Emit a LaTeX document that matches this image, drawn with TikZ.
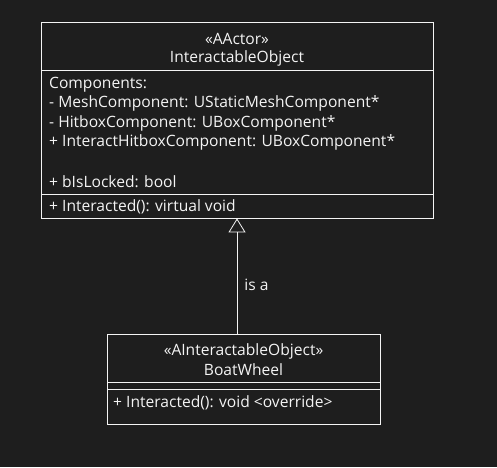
\documentclass[tikz,border=0pt]{standalone}
\usepackage{fontspec}
\setmainfont{Open Sans}
\usetikzlibrary{arrows.meta,positioning}
\definecolor{bgcol}{HTML}{1E1E1E}
\definecolor{fgcol}{HTML}{F4F4F4}

\begin{document}
\begin{tikzpicture}[x=1pt,y=-1pt]
			\tikzstyle{classbox}=[draw=fgcol,fill=bgcol,line width=0.8pt,inner sep=0pt]
			\tikzstyle{txt}=[text=fgcol,inner sep=0pt,font=\fontsize{15.6}{18}\selectfont]
			\tikzstyle{member}=[txt,anchor=west]
			\fill [bgcol] (0,0) rectangle (497,467);
			% InteractableObject
			\node [classbox,minimum width=392pt,minimum height=196pt] (iobj) at (237,120) {};
			\draw [fgcol,line width=0.8pt] (41,70) -- (433,70);
			\draw [fgcol,line width=0.8pt] (41,194) -- (433,194);
			\node [txt] (iobjstereo) at (237,39) {«AActor»};
			\node [txt] (iobjname) at (237,58) {InteractableObject};
			\node [member] (iobjcomp) at (49,85) {Components:};
			\node [member] (iobjmesh) at (49,103) {- MeshComponent: UStaticMeshComponent*};
			\node [member] (iobjhit) at (49,123) {- HitboxComponent: UBoxComponent*};
			\node [member] (iobjinter) at (49,142) {+ InteractHitboxComponent: UBoxComponent*};
			\node [member] (iobjlock) at (49,182) {+ bIsLocked: bool};
			\node [member] (iobjfunc) at (49,207) {+ Interacted(): virtual void};
			% BoatWheel
			\node [classbox,minimum width=273pt,minimum height=90pt] (wheel) at (243.5,379) {};
			\draw [fgcol,line width=0.8pt] (107,382) -- (380,382);
			\draw [fgcol,line width=0.8pt] (107,389) -- (380,389);
			\node [txt] (wheelstereo) at (243.5,351) {«AInteractableObject»};
			\node [txt] (wheelname) at (243.5,370) {BoatWheel};
			\node [member] (wheelfunc) at (113,403) {+ Interacted(): void <override>};
			% is a
			\draw [fgcol,line width=0.8pt,-{Triangle[open,length=14pt,width=17pt]}] (wheel.north -| 237,0) -- (iobj.south -| 237,0)
				node [txt,pos=0.42,right=7pt] (isa) {is a};
\end{tikzpicture}
\end{document}
